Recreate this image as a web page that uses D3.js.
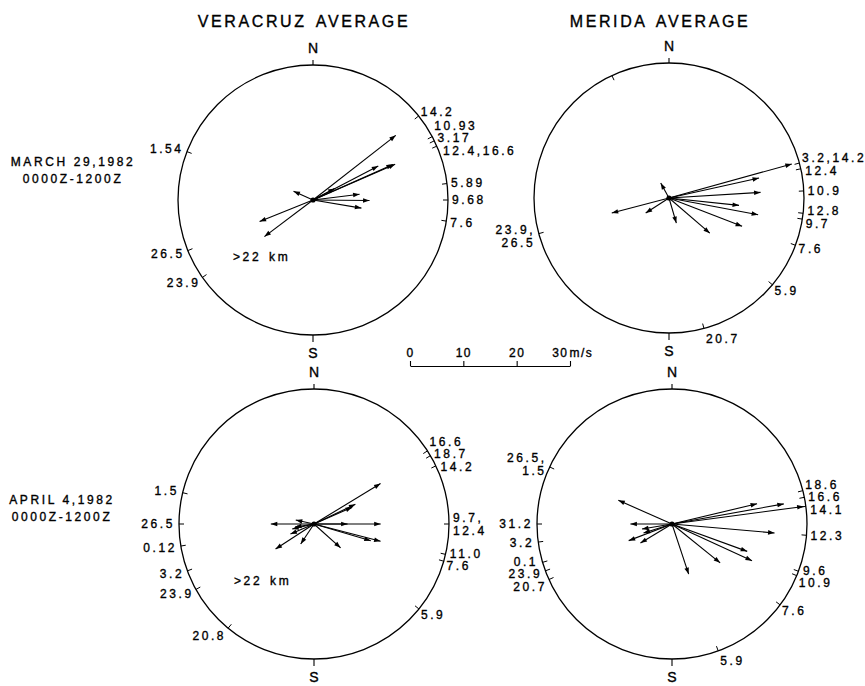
<!DOCTYPE html>
<html>
<head>
<meta charset="utf-8">
<script src="https://cdn.jsdelivr.net/npm/d3@7"></script>
<style>
  html, body { margin: 0; padding: 0; background: #fff; }
  svg { display: block; }
  text { font-family: "Liberation Sans", Arial, Helvetica, sans-serif; fill: #000; stroke: #000; stroke-width: 0.35px; }
</style>
</head>
<body>
<svg id="chart" width="865" height="686"></svg>
<script>
// Wind vectors: [direction the wind blows toward (deg clockwise from N), speed (m/s)]
// Level marks: [direction (deg), heights (km) sharing that direction]

// Veracruz, 29 March 1982
const veracruzMarVectors = [
  [52, 19.7], [62.5, 13.8], [62, 4.6], [66.5, 16.8], [66, 16.4],
  [83, 8.8], [90.5, 10.6], [99.5, 9.2],
  [294, 4.0], [248, 10.8], [233, 11.4]
];
const veracruzMarLevels = [
  [51.5, "14.2"], [62, "10.93"], [64, "3.17"], [66.5, "12.4,16.6"],
  [83, "5.89"], [90, "9.68"], [99, "7.6"],
  [291, "1.54"], [248, "26.5"], [235, "23.9"]
];

// Merida, 29 March 1982
const meridaMarVectors = [
  [74.5, 23.9], [77.5, 17.3], [86.5, 17.2], [96, 13.2], [100.6, 17.0],
  [111.2, 14.7], [130.7, 10.1], [163.7, 4.9],
  [237.2, 5.2], [255.3, 11.1], [331, 3.2]
];
const meridaMarLevels = [
  [335, ""], [75, "3.2,14.2"], [77.5, "12.4"], [87, "10.9"], [96.5, "12.8"],
  [99, "9.7"], [110.5, "7.6"], [130, "5.9"], [165, "20.7"], [254.7, "23.9,\n26.5"]
];

// Veracruz, 4 April 1982
const veracruzAprVectors = [
  [58.7, 14.6], [64.5, 8.6], [66.3, 7.8],
  [90, 12.5], [90, 6.3], [104.6, 12.9], [106.4, 11.1], [131.9, 6.7],
  [213.6, 4.5], [236.9, 8.6], [246.8, 4.8], [257, 4.2], [261, 3.6],
  [270, 8.1], [282.3, 3.5]
];
const veracruzAprLevels = [
  [57.2, "16.6"], [59.6, "18.7"], [64.5, "14.2"], [90, "9.7,\n12.4"],
  [103, "11.0"], [106, "7.6"], [129, "5.9"],
  [219.5, "20.8"], [241, "23.9"], [249.7, "3.2"], [260.6, "0.12"],
  [270, "26.5"], [283.4, "1.5"]
];

// Merida, 4 April 1982
const meridaAprVectors = [
  [76.6, 16.4], [79.8, 21.3], [82.4, 24.9], [95, 19.3],
  [110, 15.0], [114.6, 16.5], [128.9, 11.6], [161.6, 9.9],
  [293.8, 11.0], [270, 7.8], [249, 8.7], [252.4, 5.6], [260.5, 5.7], [239, 6.9]
];
const meridaAprLevels = [
  [295, "26.5,\n1.5"], [270, "31.2"], [262.3, "3.2"], [253.5, "0.1"],
  [249.7, "23.9"], [245.7, "20.7"],
  [75.7, "18.6"], [78.6, "16.6"], [82.5, "14.1"], [94.8, "12.3"],
  [110.5, "9.6"], [112.5, "10.9"], [126.8, "7.6"], [160, "5.9"]
];

const columnTitles = ["VERACRUZ AVERAGE", "MERIDA AVERAGE"];
const rowTitles = [["MARCH 29,1982", "0000Z-1200Z"], ["APRIL 4,1982", "0000Z-1200Z"]];
const scaleTicks = [0, 10, 20, 30];
const scaleUnit = "m/s";
const topNote = ">22 km";

// ---------------------------------------------------------------
const svg = d3.select("#chart");
const R = 135;                       // hodograph ring radius (px)
const speed = d3.scaleLinear().domain([0, 30]).range([0, 160]);
const angle = d3.scaleLinear().domain([0, 360]).range([0, 2 * Math.PI]);

const panels = [
  { cx: 313, cy: 200, vectors: veracruzMarVectors, levels: veracruzMarLevels, note: true },
  { cx: 669, cy: 198, vectors: meridaMarVectors,   levels: meridaMarLevels,   note: false },
  { cx: 314, cy: 524, vectors: veracruzAprVectors, levels: veracruzAprLevels, note: true },
  { cx: 672, cy: 524, vectors: meridaAprVectors,   levels: meridaAprLevels,   note: false }
];

const smallFont = { size: 12, ls: 2.6 };

function arrowPath(dir, spd) {
  const a = angle(dir);
  const len = speed(spd);
  const tip = d3.pointRadial(a, len);
  const base = d3.pointRadial(a, Math.max(len - 6.5, 0));
  const nx = Math.cos(a), ny = Math.sin(a);
  const w = 2.3;
  return {
    line: `M0,0L${tip[0]},${tip[1]}`,
    head: `M${tip[0]},${tip[1]}L${base[0] + nx * w},${base[1] + ny * w}L${base[0] - nx * w},${base[1] - ny * w}Z`
  };
}

// place the height labels just outside the ring, spreading crowded ones apart
function layoutLabels(levels) {
  const lineStep = 13, blockH = 12.5, R2 = R + 4;
  const items = levels.filter(d => d[1] !== "").map(([dir, text]) => {
    const a = angle(dir);
    const lines = text.split("\n");
    const c = Math.cos(a);
    const ideal = -(R + 7 + 4 * Math.max(0, -c)) * c;
    return {
      dir, lines, a,
      side: Math.sin(a) >= 0 ? 1 : -1,
      h: blockH + (lines.length - 1) * lineStep,
      y: ideal, ideal,
      tx: d3.pointRadial(a, R)[0]
    };
  });
  [1, -1].forEach(side => {
    const list = items.filter(d => d.side === side).sort((p, q) => p.ideal - q.ideal);
    for (let it = 0; it < 400; it++) {
      let moved = false;
      for (let i = 1; i < list.length; i++) {
        const p = list[i - 1], q = list[i];
        const need = (p.h + q.h) / 2 - (q.y - p.y);
        if (need > 0.01) { p.y -= need / 2; q.y += need / 2; moved = true; }
      }
      if (!moved) break;
    }
  });
  items.forEach(d => {
    const xc = Math.abs(d.y) < R2 ? d.side * Math.sqrt(R2 * R2 - d.y * d.y) : 0;
    d.x = d.side > 0 ? Math.max(xc, d.tx + 2) : Math.min(xc, d.tx - 2);
  });
  return items;
}

panels.forEach(p => {
  const g = svg.append("g").attr("transform", `translate(${p.cx},${p.cy})`);

  g.append("circle").attr("r", R)
    .attr("fill", "none").attr("stroke", "#000").attr("stroke-width", 1.3);

  // N and S marks
  g.append("line").attr("x1", 0).attr("x2", 0).attr("y1", -R).attr("y2", -R - 5)
    .attr("stroke", "#000").attr("stroke-width", 1.1);
  g.append("line").attr("x1", 0).attr("x2", 0).attr("y1", R).attr("y2", R + 7)
    .attr("stroke", "#000").attr("stroke-width", 1.1);
  g.append("text").attr("x", 0).attr("y", -R - 12).attr("text-anchor", "middle")
    .attr("font-size", 14).text("N");
  g.append("text").attr("x", 0).attr("y", R + 23).attr("text-anchor", "middle")
    .attr("font-size", 14).text("S");

  // direction ticks on the ring, one per level group
  g.selectAll("line.lev").data(p.levels).join("line").attr("class", "lev")
    .each(function (d) {
      const a = angle(d[0]);
      const [x1, y1] = d3.pointRadial(a, R - 5);
      const [x2, y2] = d3.pointRadial(a, R);
      d3.select(this).attr("x1", x1).attr("y1", y1).attr("x2", x2).attr("y2", y2);
    })
    .attr("stroke", "#000").attr("stroke-width", 1);

  // height labels
  const labels = layoutLabels(p.levels);
  labels.forEach(d => {
    const t = g.append("text")
      .attr("text-anchor", d.side > 0 ? "start" : "end")
      .attr("font-size", smallFont.size)
      .attr("letter-spacing", smallFont.ls);
    d.lines.forEach((ln, i) => {
      t.append("tspan")
        .attr("x", d.x)
        .attr("y", d.y - (d.lines.length - 1) * 13 / 2 + i * 13 + 4.3)
        .text(ln);
    });
  });

  // wind vectors
  const vg = g.append("g");
  p.vectors.forEach(([dir, spd]) => {
    const ap = arrowPath(dir, spd);
    vg.append("path").attr("d", ap.line).attr("stroke", "#000")
      .attr("stroke-width", 1.1).attr("fill", "none");
    vg.append("path").attr("d", ap.head).attr("fill", "#000").attr("stroke", "none");
  });
  vg.append("circle").attr("r", 2.6).attr("fill", "#000");

  if (p.note) {
    g.append("text").attr("x", -80).attr("y", 61)
      .attr("font-size", smallFont.size).attr("letter-spacing", smallFont.ls)
      .attr("word-spacing", 2).text(topNote);
  }
});

// column titles
[[304, columnTitles[0]], [660, columnTitles[1]]].forEach(([x, t]) => {
  svg.append("text").attr("x", x).attr("y", 27).attr("text-anchor", "middle")
    .attr("font-size", 16).attr("letter-spacing", 2.6).attr("word-spacing", 3).text(t);
});

// row titles
[[73, 166], [62, 504]].forEach(([x, y], i) => {
  rowTitles[i].forEach((t, j) => {
    svg.append("text").attr("x", x).attr("y", y + j * 16.5).attr("text-anchor", "middle")
      .attr("font-size", smallFont.size).attr("letter-spacing", smallFont.ls).text(t);
  });
});

// speed scale bar
const axis = d3.axisTop(speed).tickValues(scaleTicks).tickSize(5).tickSizeOuter(0)
  .tickPadding(4).tickFormat(d3.format("d"));
const bar = svg.append("g").attr("transform", "translate(410,366)").call(axis);
bar.select(".domain").attr("stroke", "#000").attr("stroke-width", 1.1);
bar.selectAll(".tick line").attr("stroke", "#000").attr("stroke-width", 1.1);
bar.selectAll(".tick text")
  .attr("font-family", "\"Liberation Sans\", Arial, sans-serif")
  .attr("font-size", smallFont.size).attr("letter-spacing", 1.5).attr("fill", "#000");
const last = bar.selectAll(".tick").filter(d => d === scaleTicks[scaleTicks.length - 1]);
last.select("text").attr("text-anchor", "end").attr("x", -2);
last.append("text").attr("x", -1).attr("y", -9).attr("dy", "0em")
  .attr("text-anchor", "start").attr("fill", "#000")
  .attr("font-family", "\"Liberation Sans\", Arial, sans-serif")
  .attr("font-size", smallFont.size).attr("letter-spacing", 1.5).text(scaleUnit);
</script>
</body>
</html>
